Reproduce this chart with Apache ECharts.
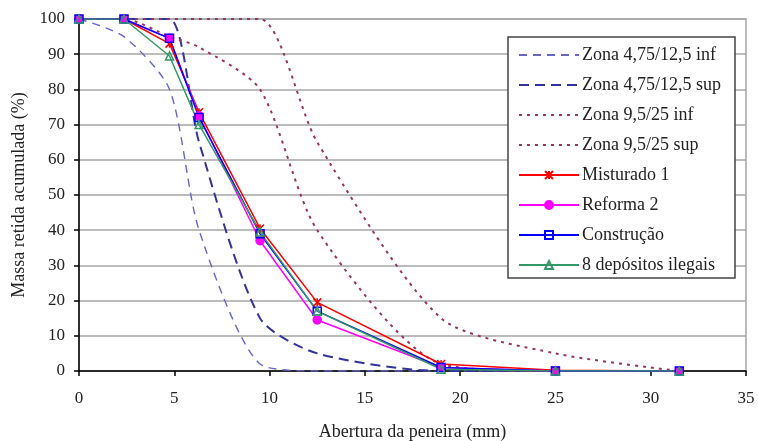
<!DOCTYPE html>
<html><head><meta charset="utf-8">
<script src="https://cdn.jsdelivr.net/npm/echarts@6/dist/echarts.min.js"></script>
<style>html,body{margin:0;padding:0;background:#fff}#c{width:758px;height:441px}</style>
</head><body><div id="c"></div>
<script>
var sieves = [0, 2.36, 4.75, 6.3, 9.5, 12.5, 19, 25, 31.5];
var zona475inf = [100, 95, 80, 40, 2, 0, 0, 0, 0];
var zona475sup = [100, 100, 100, 65, 15, 5, 0, 0, 0];
var zona95inf = [100, 100, 95, 92, 80, 40, 2, 0, 0];
var zona95sup = [100, 100, 100, 100, 100, 65, 15, 5, 0];
var misturado1 = [100, 100, 93, 73.5, 40.5, 19.5, 2, 0.2, 0];
var reforma2 = [100, 100, 94.5, 72.5, 37, 14.5, 1, 0, 0];
var construcao = [100, 100, 94.5, 72, 39, 17, 1, 0, 0];
var depositos8 = [100, 100, 89.5, 70, 39.5, 17, 0.5, 0, 0];
var seriesNames = ['Zona 4,75/12,5 inf', 'Zona 4,75/12,5 sup', 'Zona 9,5/25 inf', 'Zona 9,5/25 sup', 'Misturado 1', 'Reforma 2', 'Construção', '8 depósitos ilegais'];
var xTicks = [0, 5, 10, 15, 20, 25, 30, 35];
var yTicks = [0, 10, 20, 30, 40, 50, 60, 70, 80, 90, 100];

function pts(v) { return sieves.map(function (x, i) { return [x, v[i]]; }); }
var FONT = 'Liberation Serif';
function zone(name, v, color, w, dash) {
  return { name: name, type: 'line', data: pts(v), smooth: 0.25, showSymbol: false, symbol: 'circle', symbolSize: 1,
    lineStyle: { color: color, width: w, type: dash },
    itemStyle: { color: 'rgba(0,0,0,0)', borderColor: 'rgba(0,0,0,0)', borderWidth: 0 }, z: 1 };
}
function meas(name, v, color, symbol, size, fill) {
  return { name: name, type: 'line', data: pts(v), symbol: symbol, symbolSize: size, showSymbol: true,
    lineStyle: { color: color, width: 1.5 },
    itemStyle: { color: fill, borderColor: color, borderWidth: 1.5 }, z: 2 };
}
var chart = echarts.init(document.getElementById('c'), null, { renderer: 'canvas' });
chart.setOption({
  animation: false,
  textStyle: { fontFamily: FONT },
  grid: { left: 79, top: 19, right: 12, bottom: 70, outerBoundsMode: 'none', containLabel: false,
    show: true, borderColor: '#a6a6a6', borderWidth: 1.5, backgroundColor: 'transparent' },
  xAxis: { type: 'value', min: 0, max: 35, interval: 5,
    name: 'Abertura da peneira (mm)', nameLocation: 'middle', nameGap: 52,
    nameTextStyle: { fontFamily: FONT, fontSize: 18, color: '#222' },
    axisLine: { show: true, lineStyle: { color: '#000', width: 1.5 } },
    axisTick: { show: true, length: 5, inside: false, lineStyle: { color: '#000', width: 1.5 } },
    axisLabel: { fontFamily: FONT, fontSize: 17, color: '#222', margin: 19,
      formatter: function (v) { return xTicks.indexOf(v) >= 0 ? String(v) : ''; } },
    splitLine: { show: false } },
  yAxis: { type: 'value', min: 0, max: 100, interval: 10,
    name: 'Massa retida acumulada (%)', nameLocation: 'middle', nameGap: 50,
    nameTextStyle: { fontFamily: FONT, fontSize: 18, color: '#222' },
    axisLine: { show: true, lineStyle: { color: '#000', width: 1.5 } },
    axisTick: { show: true, length: 5, inside: false, lineStyle: { color: '#000', width: 1.5 } },
    axisLabel: { fontFamily: FONT, fontSize: 17, color: '#222', margin: 14,
      formatter: function (v) { return yTicks.indexOf(v) >= 0 ? String(v) : ''; } },
    splitLine: { show: true, lineStyle: { color: '#a6a6a6', width: 1.5 } } },
  graphic: [{ type: 'rect', shape: { x: 508, y: 37, width: 227, height: 241 }, z: 3,
    style: { fill: '#fff', stroke: '#444', lineWidth: 1.5 } }],
  legend: { orient: 'vertical', left: 518, top: 46, z: 10,
    padding: 0, itemWidth: 60, itemHeight: 10, itemGap: 12,
    textStyle: { fontFamily: FONT, fontSize: 18, color: '#222', padding: [0, 0, 0, -2] },
    data: seriesNames },
  series: [
    zone(seriesNames[0], zona475inf, '#6666cc', 1.4, [8, 6]),
    zone(seriesNames[1], zona475sup, '#333399', 2, [10, 6]),
    zone(seriesNames[2], zona95inf, '#993366', 2, [3, 5]),
    zone(seriesNames[3], zona95sup, '#993366', 2, [3, 5]),
    meas(seriesNames[4], misturado1, '#ff0000', 'path://M0,0L10,10M10,0L0,10M5,0L5,10', 8, 'rgba(0,0,0,0)'),
    meas(seriesNames[5], reforma2, '#ff00ff', 'circle', 8, '#ff00ff'),
    meas(seriesNames[6], construcao, '#0000ff', 'rect', 8, 'rgba(0,0,0,0)'),
    meas(seriesNames[7], depositos8, '#339966', 'triangle', 8, 'rgba(0,0,0,0)')
  ]
});
</script></body></html>
